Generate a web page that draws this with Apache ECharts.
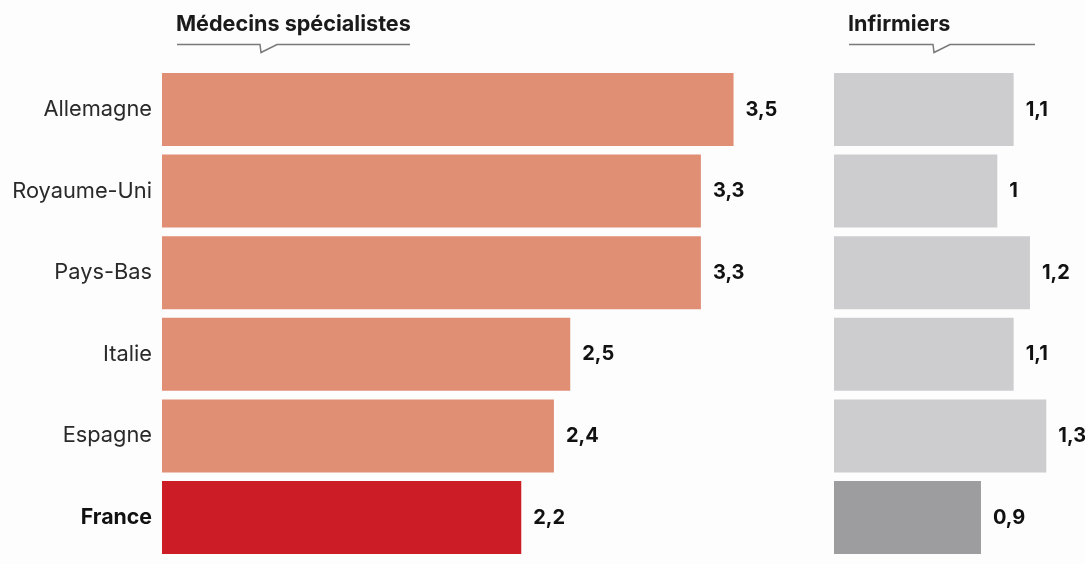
<!DOCTYPE html>
<html>
<head>
<meta charset="utf-8">
<script src="https://cdn.jsdelivr.net/npm/echarts@6/dist/echarts.min.js"></script>
<style>
  html, body { margin: 0; padding: 0; background: #fdfdfd; }
  #chart { width: 1085px; height: 564px; }
</style>
</head>
<body>
<div id="chart"></div>
<script>
// Densité pour 1 000 habitants
const countries = ['Allemagne', 'Royaume-Uni', 'Pays-Bas', 'Italie', 'Espagne', 'France'];
const specialistes = [3.5, 3.3, 3.3, 2.5, 2.4, 2.2];
const infirmiers = [1.1, 1, 1.2, 1.1, 1.3, 0.9];
const panelTitles = ['Médecins spécialistes', 'Infirmiers'];
const highlight = 'France';

const FONT = 'Inter, Roboto, "Liberation Sans", sans-serif';
const UNIT = 163.3; // px per unit, shared by both panels
const TOP = 68.7, HEIGHT = 489.6;

const fmt = v => String(v).replace('.', ',');

function barData(values, base, strong) {
  return values.map((v, i) => ({
    value: v,
    itemStyle: { color: countries[i] === highlight ? strong : base }
  }));
}

const chart = echarts.init(document.getElementById('chart'), null, { renderer: 'canvas' });

const leftMax = 3.5, rightMax = 1.3;
const leftX = 162, rightX = 834;

function header(text, x, lineEnd, tailX) {
  return [
    {
      type: 'text', left: x - 1, top: 13,
      style: { text: text, font: 'bold 21.6px ' + FONT, fill: '#1a1a1a' }
    },
    {
      type: 'polyline',
      shape: { points: [[x, 44.5], [tailX, 44.5], [tailX + 1, 52.5], [tailX + 17, 44.5], [lineEnd, 44.5]] },
      style: { stroke: '#7a7a7a', lineWidth: 1.5, fill: null }
    }
  ];
}

const valueLabel = {
  show: true, position: 'right', distance: 12,
  fontFamily: FONT, fontSize: 20, fontWeight: 'bold', color: '#111',
  formatter: p => fmt(p.value)
};

chart.setOption({
  animation: false,
  backgroundColor: '#fdfdfd',
  grid: [
    { left: leftX, top: TOP, height: HEIGHT, width: leftMax * UNIT },
    { left: rightX, top: TOP, height: HEIGHT, width: rightMax * UNIT }
  ],
  xAxis: [
    { gridIndex: 0, type: 'value', min: 0, max: leftMax, show: false },
    { gridIndex: 1, type: 'value', min: 0, max: rightMax, show: false }
  ],
  yAxis: [
    {
      gridIndex: 0, type: 'category', data: countries, inverse: true,
      axisLine: { show: false }, axisTick: { show: false },
      axisLabel: {
        margin: 10,
        fontFamily: FONT, fontSize: 21.8, color: '#2a2a2a',
        formatter: v => v === highlight ? '{b|' + v + '}' : v,
        rich: { b: { fontFamily: FONT, fontSize: 21.3, fontWeight: 'bold', color: '#111' } }
      }
    },
    {
      gridIndex: 1, type: 'category', data: countries, inverse: true,
      axisLine: { show: false }, axisTick: { show: false }, axisLabel: { show: false }
    }
  ],
  series: [
    {
      type: 'bar', xAxisIndex: 0, yAxisIndex: 0,
      data: barData(specialistes, '#e08e74', '#cc1c26'),
      barCategoryGap: '10.5%',
      label: valueLabel
    },
    {
      type: 'bar', xAxisIndex: 1, yAxisIndex: 1,
      data: barData(infirmiers, '#cdcdcf', '#9d9da0'),
      barCategoryGap: '10.5%',
      label: valueLabel
    }
  ],
  graphic: [
    ...header(panelTitles[0], 177, 410, 260),
    ...header(panelTitles[1], 849, 1035, 933)
  ]
});
</script>
</body>
</html>
